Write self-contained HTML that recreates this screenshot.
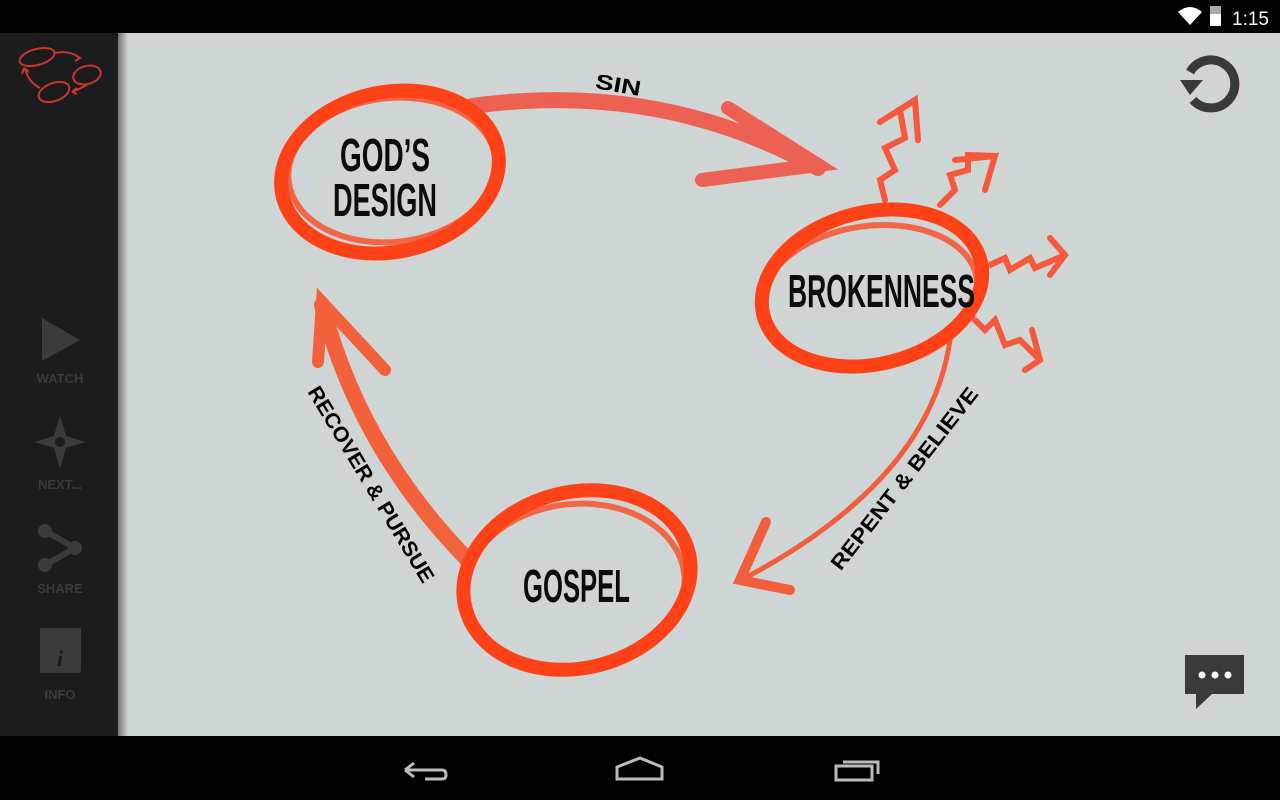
<!DOCTYPE html>
<html><head><style>
html,body{margin:0;padding:0;width:1280px;height:800px;overflow:hidden;background:#cfd4d4;font-family:"Liberation Sans",sans-serif}
</style></head><body>
<svg width="1280" height="800" viewBox="0 0 1280 800" xmlns="http://www.w3.org/2000/svg" style="position:absolute;left:0;top:0">
<defs>
<linearGradient id="sh" x1="0" x2="1"><stop offset="0" stop-color="#000" stop-opacity=".45"/><stop offset="1" stop-color="#000" stop-opacity="0"/></linearGradient>
</defs>
<rect width="1280" height="800" fill="#cfd4d4"/>
<rect x="118" y="33" width="10" height="703" fill="url(#sh)"/>
<rect x="0" y="0" width="1280" height="33" fill="#000"/>
<rect x="0" y="736" width="1280" height="64" fill="#000"/>
<rect x="0" y="33" width="118" height="703" fill="#1c1b1d"/>
<!-- status -->
<path d="M1178 12 Q1190 2 1202 12 L1190 25 Z" fill="#fff"/>
<rect x="1210" y="6" width="11" height="20" fill="#aaa"/><rect x="1210" y="14" width="11" height="12" fill="#fff"/>
<text x="1232" y="25" fill="#fff" font-size="19">1:15</text>
<!-- nav -->
<path d="M405 770 L442 770 Q446 770 446 775 Q446 779 442 779 L425 779 M405 770 L414 763 M405 770 L414 777" stroke="#bbb" stroke-width="3" fill="none"/>
<path d="M617 779 L617 767 L640 758 L662 767 L662 779 Z" stroke="#bbb" stroke-width="3" fill="none"/>
<rect x="836" y="766" width="36" height="14" stroke="#bbb" stroke-width="3" fill="none"/><path d="M843 762 L878 762 L878 774" stroke="#bbb" stroke-width="3" fill="none"/>
<!-- sidebar logo -->
<g stroke="#c8362c" stroke-width="2" fill="none">
<ellipse cx="37" cy="57" rx="18" ry="8" transform="rotate(-15 37 57)"/>
<ellipse cx="87" cy="75" rx="14" ry="9" transform="rotate(-15 87 75)"/>
<ellipse cx="54" cy="92" rx="16" ry="9" transform="rotate(-20 54 92)"/>
<path d="M55 53 Q70 50 80 58 M75 55 L80 58 L75 61 M25 68 Q28 82 40 88 M24 68 L22 74 M24 68 L29 72 M72 92 Q82 88 88 84 M72 92 L77 88 M72 92 L77 94"/>
</g>
<!-- sidebar icons -->
<g fill="#3b3b3d" font-size="13" font-weight="bold" text-anchor="middle">
<path d="M42 318 L80 340 L42 361 Z"/><text x="60" y="383">WATCH</text>
<path d="M60 415 L66 436 L86 442 L66 448 L60 469 L54 448 L34 442 L54 436 Z"/><circle cx="60" cy="442" r="5" fill="#1c1b1d"/><text x="60" y="489">NEXT...</text>
<circle cx="45" cy="531" r="7"/><circle cx="75" cy="548" r="7"/><circle cx="45" cy="565" r="7"/><path d="M45 531 L75 548 L45 565" stroke="#3b3b3d" stroke-width="6" fill="none"/><text x="60" y="593">SHARE</text>
<rect x="40" y="628" width="41" height="45" rx="2"/><text x="60" y="666" fill="#1c1b1d" font-family="Liberation Serif" font-style="italic" font-size="22">i</text><text x="60" y="699">INFO</text>
</g>
<!-- refresh -->
<path d="M1190 72 A24 24 0 1 1 1193 100" stroke="#3a3a3a" stroke-width="9" fill="none"/>
<path d="M1180 80 L1203 80 L1190 95 Z" fill="#3a3a3a"/>
<!-- chat -->
<path d="M1185 655 L1244 655 L1244 694 L1212 694 L1196 709 L1196 694 L1185 694 Z" fill="#3a3a3a"/>
<circle cx="1202" cy="675" r="3.5" fill="#fff"/><circle cx="1215" cy="675" r="3.5" fill="#fff"/><circle cx="1228" cy="675" r="3.5" fill="#fff"/>
<!-- arrows -->
<g stroke="#f0584a" fill="none" stroke-linecap="round" opacity=".92">
<path d="M472 106 Q660 80 818 168" stroke-width="16"/>
<path d="M480 100 Q660 85 815 160" stroke-width="6" opacity=".6"/>
<path d="M728 108 L818 165 L702 180" stroke-width="14"/>
<path d="M950 340 Q930 480 745 578" stroke="#f5532f" stroke-width="5"/>
<path d="M766 522 L740 580 L790 590" stroke="#f5532f" stroke-width="10"/>
<path d="M468 560 Q360 450 322 305" stroke="#f5582f" stroke-width="16"/>
<path d="M318 362 L322 302 L385 370" stroke="#f5582f" stroke-width="12"/>
</g>
<!-- brokenness squiggles -->
<g stroke="#f5583a" stroke-width="6" fill="none" stroke-linecap="round">
<path d="M885 200 L880 180 L895 170 L885 148 L905 138 L900 110 L915 100 M880 122 L915 100 L918 140"/>
<path d="M940 205 L955 190 L950 175 L968 170 L968 155 L995 156 M955 160 L995 156 L985 190"/>
<path d="M990 265 L1005 258 L1010 270 L1030 258 L1035 268 L1065 255 M1050 238 L1065 255 L1050 275"/>
<path d="M975 320 L985 330 L995 320 L1005 345 L1020 340 L1040 360 M1025 370 L1040 360 L1032 330"/>
</g>
<!-- ellipses -->
<g fill="none" stroke="#fe4217">
<ellipse cx="390" cy="172" rx="110" ry="80" transform="rotate(-12 390 172)" stroke-width="14"/>
<ellipse cx="392" cy="170" rx="104" ry="72" transform="rotate(-6 392 170)" stroke-width="6" opacity=".75"/>
<ellipse cx="872" cy="288" rx="112" ry="76" transform="rotate(-14 872 288)" stroke-width="14"/>
<ellipse cx="870" cy="294" rx="108" ry="68" transform="rotate(-8 870 294)" stroke-width="6" opacity=".75"/>
<ellipse cx="577" cy="580" rx="115" ry="88" transform="rotate(-14 577 580)" stroke-width="14"/>
<ellipse cx="575" cy="586" rx="110" ry="82" transform="rotate(-6 575 586)" stroke-width="6" opacity=".75"/>
</g>
<!-- labels -->
<g font-family="'Liberation Sans Narrow','Liberation Sans',sans-serif" font-weight="bold" fill="#0c0c0c" font-size="46">
<text x="340" y="171" textLength="90" lengthAdjust="spacingAndGlyphs">GOD’S</text>
<text x="333" y="216" textLength="104" lengthAdjust="spacingAndGlyphs">DESIGN</text>
<text x="788" y="307" textLength="187" lengthAdjust="spacingAndGlyphs">BROKENNESS</text>
<text x="523" y="602" textLength="107" lengthAdjust="spacingAndGlyphs">GOSPEL</text>
</g>
<g font-size="21" fill="#000" font-weight="bold" text-anchor="middle">
<text transform="translate(617,92) rotate(10)" textLength="46" lengthAdjust="spacingAndGlyphs">SIN</text>
<text transform="translate(910,483) rotate(-52)" textLength="225" lengthAdjust="spacingAndGlyphs">REPENT &amp; BELIEVE</text>
<text transform="translate(365,488) rotate(59)" textLength="225" lengthAdjust="spacingAndGlyphs">RECOVER &amp; PURSUE</text>
</g>
</svg>
</body></html>
